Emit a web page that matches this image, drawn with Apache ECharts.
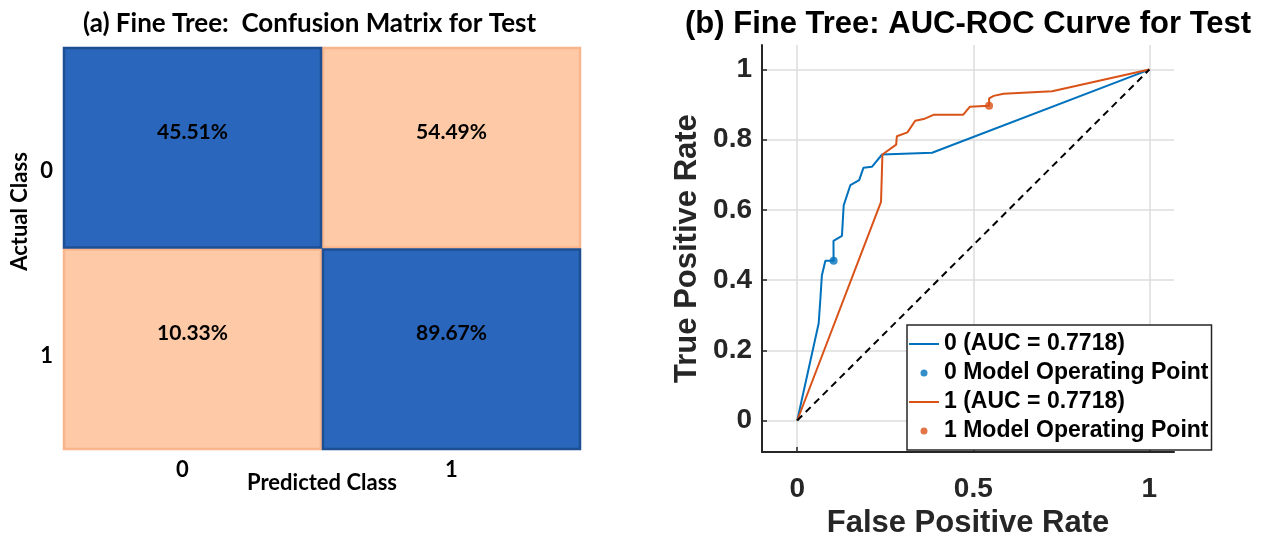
<!DOCTYPE html>
<html><head><meta charset="utf-8">
<script src="https://cdn.jsdelivr.net/npm/echarts@6/dist/echarts.min.js"></script>
<style>html,body{margin:0;padding:0;background:#fff}#c{width:1266px;height:544px}</style>
</head><body><div id="c"></div>
<script>
// ---------- data ----------
const cmClasses = ['0', '1'];
// [predicted index, actual index, percentage]
const cmCells = [[1, 0, 54.49], [0, 1, 10.33], [0, 0, 45.51], [1, 1, 89.67]];

const roc0Fpr = [0, 0.061, 0.066, 0.070, 0.080, 0.1033, 0.103, 0.127, 0.130, 0.132, 0.151, 0.176, 0.188, 0.212, 0.241, 0.383, 1];
const roc0Tpr = [0, 0.277, 0.350, 0.413, 0.455, 0.4551, 0.512, 0.526, 0.530, 0.613, 0.671, 0.685, 0.720, 0.723, 0.758, 0.763, 1];
const roc1Fpr = [0, 0.238, 0.242, 0.281, 0.283, 0.313, 0.335, 0.359, 0.387, 0.471, 0.490, 0.5449, 0.545, 0.558, 0.586, 0.724, 1];
const roc1Tpr = [0, 0.623, 0.758, 0.786, 0.810, 0.821, 0.854, 0.859, 0.871, 0.871, 0.894, 0.8967, 0.918, 0.925, 0.931, 0.938, 1];
const opPoint0 = [0.1033, 0.4551];
const opPoint1 = [0.5449, 0.8967];
const chanceLine = [[0, 0], [1, 1]];
const rocNames = ['0 (AUC = 0.7718)', '0 Model Operating Point', '1 (AUC = 0.7718)', '1 Model Operating Point'];
const xTicks = [0, 0.5, 1];
const yTicks = [0, 0.2, 0.4, 0.6, 0.8, 1];

// ---------- chart ----------
const zip = (a, b) => a.map((v, i) => [v, b[i]]);
const fmt = v => String(+(+v).toFixed(2));
const axisDark = '#262626';
const armFont = 'Liberation Sans, Arial, sans-serif';
const calFont = 'Lato, "Open Sans", sans-serif';
const cmText = { fontFamily: calFont, fontSize: 22, fontWeight: 'bold', color: '#000' };
const lineIcon = 'path://M0,0 H30 V2 H0 Z';

const chart = echarts.init(document.getElementById('c'));
chart.setOption({
  animation: false,
  backgroundColor: '#fff',
  title: [
    { text: '(a) Fine Tree:  Confusion Matrix for Test', left: 78, top: 6,
      textStyle: { fontFamily: calFont, fontSize: 26, fontWeight: 'bold', color: '#000' } },
    { text: '(b) Fine Tree: AUC-ROC Curve for Test', left: 680, top: 4,
      textStyle: { fontFamily: armFont, fontSize: 31, fontWeight: 'bold', color: '#000' } }
  ],
  grid: [
    { left: 63, top: 47, width: 518, height: 403 },
    { left: 762, top: 45, width: 412, height: 413 }
  ],
  xAxis: [
    { gridIndex: 0, type: 'category', data: cmClasses, position: 'bottom',
      axisLine: { show: false }, axisTick: { show: false }, splitLine: { show: false },
      axisLabel: Object.assign({ margin: 9, formatter: v => '{c' + v + '|' + v + '}',
        rich: { c0: Object.assign({ padding: [0, 20, 0, 0] }, cmText), c1: Object.assign({}, cmText) } }, cmText),
      name: 'Predicted Class', nameLocation: 'middle', nameGap: 22, nameMoveOverlap: false,
      nameTextStyle: cmText },
    { gridIndex: 1, type: 'value', min: -0.1, max: 1.07,
      axisLine: { onZero: false, lineStyle: { color: axisDark, width: 2 } },
      axisTick: { inside: true, length: 5, customValues: xTicks, lineStyle: { color: axisDark, width: 1.5 } },
      axisLabel: { customValues: xTicks, formatter: fmt, margin: 23, fontFamily: armFont, fontSize: 28, fontWeight: 'bold', color: axisDark },
      splitLine: { show: true, lineStyle: { color: '#dcdcdc', width: 1.5 } },
      name: 'False Positive Rate', nameLocation: 'middle', nameGap: 51,
      nameTextStyle: { fontFamily: armFont, fontSize: 31, fontWeight: 'bold', color: axisDark } }
  ],
  yAxis: [
    { gridIndex: 0, type: 'category', data: cmClasses, inverse: true,
      axisLine: { show: false }, axisTick: { show: false }, splitLine: { show: false },
      axisLabel: Object.assign({ margin: 10, formatter: v => '{r' + v + '|' + v + '}',
        rich: { r0: Object.assign({ padding: [46, 0, 0, 0] }, cmText), r1: Object.assign({ padding: [14, 0, 0, 0] }, cmText) } }, cmText),
      name: 'Actual Class', nameLocation: 'middle', nameGap: 32,
      nameTextStyle: Object.assign({ padding: [0, 0, 0, 74] }, cmText) },
    { gridIndex: 1, type: 'value', min: -0.09, max: 1.07,
      axisLine: { onZero: false, lineStyle: { color: axisDark, width: 2 } },
      axisTick: { inside: true, length: 5, customValues: yTicks, lineStyle: { color: axisDark, width: 1.5 } },
      axisLabel: { customValues: yTicks, formatter: fmt, margin: 10, fontFamily: armFont, fontSize: 28, fontWeight: 'bold', color: axisDark },
      splitLine: { show: true, lineStyle: { color: '#dcdcdc', width: 1.5 } },
      name: 'True Positive Rate', nameLocation: 'middle', nameGap: 59,
      nameTextStyle: { fontFamily: armFont, fontSize: 31, fontWeight: 'bold', color: axisDark } }
  ],
  legend: {
    data: [
      { name: rocNames[0], icon: lineIcon },
      { name: rocNames[1] },
      { name: rocNames[2], icon: lineIcon },
      { name: rocNames[3] }
    ],
    orient: 'vertical', left: 907, top: 325,
    itemWidth: 30, itemHeight: 7, itemGap: 3, symbolKeepAspect: true,
    padding: [6, 3, 6, 2],
    borderColor: axisDark, borderWidth: 1.5, backgroundColor: '#fff',
    textStyle: { fontFamily: armFont, fontSize: 23, fontWeight: 'bold', color: '#000', lineHeight: 26 }
  },
  series: [
    { type: 'custom', xAxisIndex: 0, yAxisIndex: 0, data: cmCells, silent: true,
      renderItem: (params, api) => {
        const x = api.value(0), y = api.value(1);
        const c = api.coord([x, y]);
        const s = api.size([1, 1]);
        const diag = x === y;
        return { type: 'group', children: [
          { type: 'rect', shape: { x: c[0] - s[0] / 2 + 1, y: c[1] - s[1] / 2 + 1, width: s[0] - 2, height: s[1] - 2 },
            style: { fill: diag ? '#2a66bb' : '#fdc9a7', stroke: diag ? '#1f4f93' : '#f9b58c', lineWidth: 2.5 } },
          { type: 'text', x: c[0], y: c[1] - 16, z2: 10,
            style: { text: api.value(2).toFixed(2) + '%', align: 'center', verticalAlign: 'middle',
              fontFamily: calFont, fontSize: 21, fontWeight: 'bold', fill: '#000' } }
        ] };
      } },
    { type: 'line', name: rocNames[0], xAxisIndex: 1, yAxisIndex: 1, data: zip(roc0Fpr, roc0Tpr),
      symbol: 'none', lineStyle: { color: '#0072BD', width: 2 }, itemStyle: { color: '#0072BD' }, z: 3 },
    { type: 'scatter', name: rocNames[1], xAxisIndex: 1, yAxisIndex: 1, data: [opPoint0],
      symbol: 'circle', symbolSize: 8, itemStyle: { color: '#0072BD' }, z: 5 },
    { type: 'line', name: rocNames[2], xAxisIndex: 1, yAxisIndex: 1, data: zip(roc1Fpr, roc1Tpr),
      symbol: 'none', lineStyle: { color: '#D95319', width: 2 }, itemStyle: { color: '#D95319' }, z: 3 },
    { type: 'scatter', name: rocNames[3], xAxisIndex: 1, yAxisIndex: 1, data: [opPoint1],
      symbol: 'circle', symbolSize: 8, itemStyle: { color: '#D95319' }, z: 5 },
    { type: 'line', name: 'chance', xAxisIndex: 1, yAxisIndex: 1, data: chanceLine,
      symbol: 'none', lineStyle: { color: '#000', width: 2, type: [7, 5] }, z: 4, silent: true }
  ]
});
</script>
</body></html>
